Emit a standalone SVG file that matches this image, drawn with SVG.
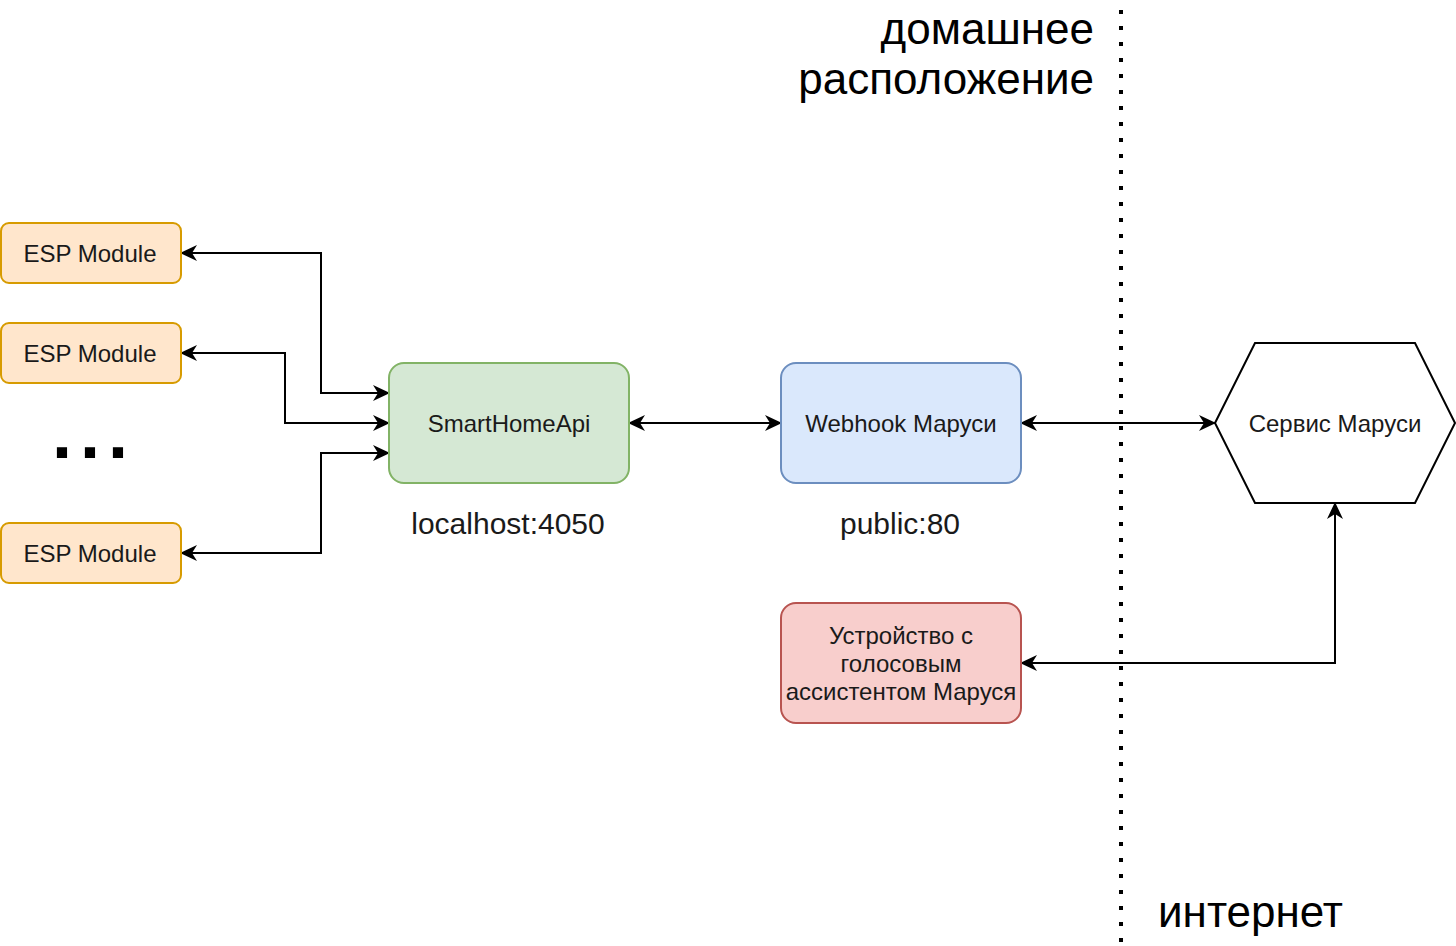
<svg xmlns="http://www.w3.org/2000/svg" width="1456" height="946" viewBox="0 0 1456 946">
<defs>
<marker id="arr" viewBox="0 0 17 16" refX="16" refY="8" markerWidth="17" markerHeight="16" markerUnits="userSpaceOnUse" orient="auto-start-reverse">
<path d="M0,0 L17,8 L0,16 L5,8 Z" fill="#000"/>
</marker>
<style>
text{font-family:"Liberation Sans",Arial,sans-serif;fill:#1a1a1a}
.esp rect{fill:#ffe6cc;stroke:#d79b00;stroke-width:2}
.esp text{font-size:24px;text-anchor:middle}
.node text{font-size:24px;text-anchor:middle}
.con path{fill:none;stroke:#000;stroke-width:2;marker-start:url(#arr);marker-end:url(#arr)}
.lbl{font-size:30px;text-anchor:middle}
.big{font-size:44px;fill:#000}
</style>
</defs>
<rect width="1456" height="946" fill="#fff"/>
<line x1="1121" y1="10" x2="1121" y2="946" stroke="#000" stroke-width="4" stroke-dasharray="4 12"/>
<text class="big" x="1094" y="44" text-anchor="end">домашнее</text>
<text class="big" x="1094" y="94" text-anchor="end">расположение</text>
<text class="big" x="1158" y="927">интернет</text>
<g class="con" id="connectors">
<path d="M181,253 H321 V393 H389"/>
<path d="M181,353 H285 V423 H389"/>
<path d="M181,553 H321 V453 H389"/>
<path d="M629,423 H781"/>
<path d="M1021,423 H1215"/>
<path d="M1021,663 H1335 V503"/>
</g>
<g id="esp1" class="esp"><rect x="1" y="223" width="180" height="60" rx="8"/><text x="90" y="261.5">ESP Module</text></g>
<g id="esp2" class="esp"><rect x="1" y="323" width="180" height="60" rx="8"/><text x="90" y="361.5">ESP Module</text></g>
<g id="esp3" class="esp"><rect x="1" y="523" width="180" height="60" rx="8"/><text x="90" y="561.5">ESP Module</text></g>
<text id="dots" x="52" y="458" font-size="72" font-weight="bold" letter-spacing="8" style="fill:#000">...</text>
<g id="smarthome" class="node"><rect x="389" y="363" width="240" height="120" rx="15" fill="#d5e8d4" stroke="#82b366" stroke-width="2"/><text x="509" y="431.5">SmartHomeApi</text></g>
<text class="lbl" x="508" y="534">localhost:4050</text>
<g id="webhook" class="node"><rect x="781" y="363" width="240" height="120" rx="15" fill="#dae8fc" stroke="#6c8ebf" stroke-width="2"/><text x="901" y="431.5">Webhook Маруси</text></g>
<text class="lbl" x="900" y="534">public:80</text>
<g id="service" class="node"><polygon points="1215,423 1255,343 1415,343 1455,423 1415,503 1255,503" fill="#fff" stroke="#000" stroke-width="2"/><text x="1335" y="431.5">Сервис Маруси</text></g>
<g id="device" class="node"><rect x="781" y="603" width="240" height="120" rx="15" fill="#f8cecc" stroke="#b85450" stroke-width="2"/><text x="901" y="644">Устройство с</text><text x="901" y="672">голосовым</text><text x="901" y="700">ассистентом Маруся</text></g>
</svg>
